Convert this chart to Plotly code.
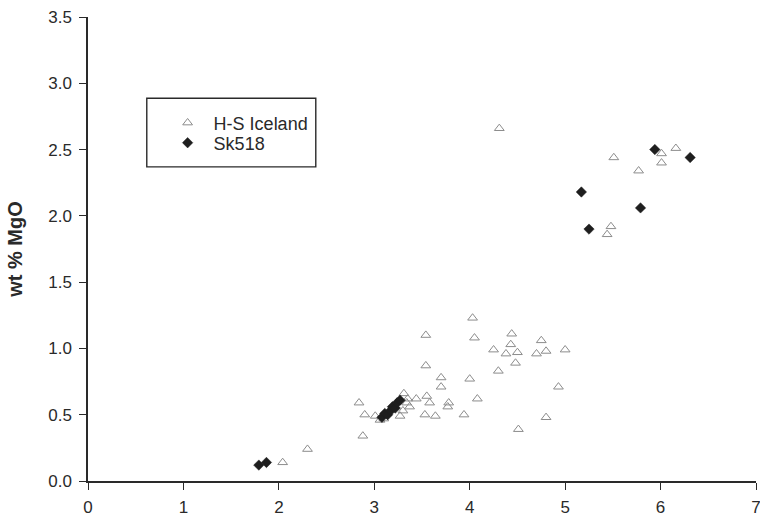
import plotly.graph_objects as go

# H-S Iceland (open triangles)
hs_x = [4.31, 5.51, 6.01, 6.01, 6.16, 5.77, 5.48, 5.44,
        4.03, 3.54, 4.05, 4.44, 4.75, 4.25, 4.43, 4.38, 4.50, 4.48, 4.70, 4.80, 5.00,
        4.30, 3.54, 3.70, 4.00, 3.70, 4.93, 4.08, 3.78, 3.77, 3.55, 3.58, 3.44, 3.31,
        3.53, 3.64, 3.94, 4.80, 4.51,
        2.84, 2.90, 3.01, 2.88, 2.30, 2.04, 3.27, 3.06, 3.34, 3.37, 3.30, 3.35, 3.10]
hs_y = [2.66, 2.44, 2.47, 2.40, 2.51, 2.34, 1.92, 1.86,
        1.23, 1.10, 1.08, 1.11, 1.06, 0.99, 1.03, 0.96, 0.97, 0.89, 0.96, 0.98, 0.99,
        0.83, 0.87, 0.78, 0.77, 0.71, 0.71, 0.62, 0.59, 0.56, 0.64, 0.59, 0.62, 0.66,
        0.50, 0.49, 0.50, 0.48, 0.39,
        0.59, 0.50, 0.49, 0.34, 0.24, 0.14, 0.49, 0.46, 0.59, 0.56, 0.53, 0.62, 0.47]

# Sk518 (filled diamonds)
sk_x = [1.79, 1.87, 3.08, 3.11, 3.14, 3.17, 3.19, 3.22, 3.24, 3.27,
        5.94, 6.31, 5.17, 5.79, 5.25]
sk_y = [0.12, 0.14, 0.48, 0.51, 0.50, 0.53, 0.56, 0.55, 0.59, 0.61,
        2.50, 2.44, 2.18, 2.06, 1.90]

x_ticks = [0, 1, 2, 3, 4, 5, 6, 7]
y_ticks = [0.0, 0.5, 1.0, 1.5, 2.0, 2.5, 3.0, 3.5]

FONT = "Liberation Sans, Arial, Helvetica, sans-serif"
INK = "#2a2a2a"

fig = go.Figure()
fig.add_trace(go.Scatter(
    x=hs_x, y=hs_y, mode="markers", name="H-S Iceland", legend="legend",
    marker=dict(symbol="triangle-up-open", size=8.5, color="#8c8c8c",
                line=dict(width=1, color="#8c8c8c")),
))
fig.add_trace(go.Scatter(
    x=sk_x, y=sk_y, mode="markers", name="Sk518", legend="legend2",
    marker=dict(symbol="diamond", size=8, color="#1e1e1e",
                line=dict(width=0.5, color="#1e1e1e")),
))

# legend frame
fig.add_shape(type="rect", xref="paper", yref="paper",
              x0=0.088, x1=0.341, y0=0.677, y1=0.825,
              line=dict(color=INK, width=1.4), fillcolor="rgba(0,0,0,0)")

leg_common = dict(x=0.1102, xanchor="left", yanchor="top",
                  bgcolor="rgba(0,0,0,0)", borderwidth=0,
                  font=dict(family=FONT, size=18, color=INK),
                  itemwidth=42)

fig.update_layout(
    width=760, height=516,
    margin=dict(l=88, r=4, t=17, b=35),
    paper_bgcolor="white", plot_bgcolor="white",
    font=dict(family=FONT, size=17, color=INK),
    showlegend=True,
    legend=dict(y=0.8114, **leg_common),
    legend2=dict(y=0.7683, **leg_common),
    xaxis=dict(range=[0, 7], tickvals=x_ticks, ticktext=[str(v) for v in x_ticks],
               showgrid=False, zeroline=False, showline=True, linecolor=INK, linewidth=1.5,
               ticks="outside", ticklen=7, tickwidth=1.3, tickcolor=INK,
               tickfont=dict(size=17, color=INK), ticklabelstandoff=3,
               ticklabeloverflow="allow", automargin=False),
    yaxis=dict(range=[0, 3.5], tickvals=y_ticks, ticktext=[f"{v:.1f}" for v in y_ticks],
               showgrid=False, zeroline=False, showline=True, linecolor=INK, linewidth=1.5,
               ticks="outside", ticklen=7, tickwidth=1.3, tickcolor=INK,
               tickfont=dict(size=17, color=INK), ticklabelstandoff=4, automargin=False,
               title=dict(text="<b>wt % MgO</b>", font=dict(size=20, color=INK), standoff=20)),
)

fig.write_html("out.html")
